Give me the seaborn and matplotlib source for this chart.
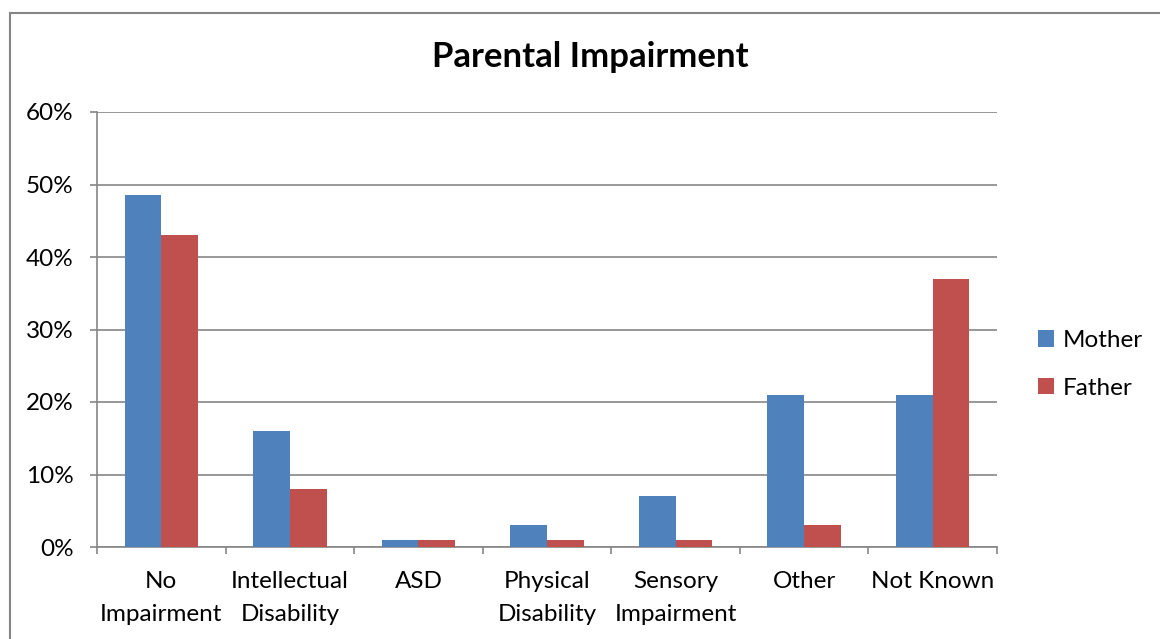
import numpy as np
import pandas as pd
import seaborn as sns
import matplotlib.pyplot as plt
from matplotlib.patches import Rectangle
from matplotlib.ticker import FuncFormatter

sns.set_style("white")
plt.rcParams['font.family'] = ['Lato', 'DejaVu Sans']
plt.rcParams['text.color'] = 'black'
plt.rcParams['xtick.labelcolor'] = 'black'
plt.rcParams['ytick.labelcolor'] = 'black'

# data (percent)
categories = ["No\nImpairment", "Intellectual\nDisability", "ASD", "Physical\nDisability",
              "Sensory\nImpairment", "Other", "Not Known"]
mother = [48.6, 16, 1, 3, 7, 21, 21]
father = [43, 8, 1, 1, 1, 3, 37]
series = ["Mother", "Father"]
colors = ["#4F81BD", "#C0504D"]

df = pd.DataFrame({
    "category": categories * 2,
    "value": mother + father,
    "parent": [series[0]] * len(categories) + [series[1]] * len(categories),
})

fig = plt.figure(figsize=(11.6, 6.39), dpi=100)
ax = fig.add_axes([97 / 1160, 92 / 639, 900 / 1160, 435 / 639])

grid_col = "#868686"
fs = 17.5
sns.barplot(data=df, x="category", y="value", hue="parent", palette=colors,
            width=2 / 3.5, saturation=1, ax=ax, zorder=3, edgecolor="none", linewidth=0)

ax.set_ylim(0, 60)
ax.set_xlim(-0.5, len(categories) - 0.5)
ax.set_yticks(np.arange(0, 61, 10))
ax.yaxis.set_major_formatter(FuncFormatter(lambda v, p: f"{int(v)}%"))
ax.grid(axis="y", color=grid_col, linewidth=1.2, zorder=0)
ax.set_axisbelow(True)

# category labels at centres, tick marks at group boundaries
ax.set_xticks(range(len(categories)))
ax.set_xticklabels(categories, linespacing=1.7, color="black")
ax.set_xticks(np.arange(-0.5, len(categories)), minor=True)
ax.tick_params(axis="x", which="major", length=0, pad=17, labelsize=fs)
ax.tick_params(axis="x", which="minor", length=5, width=1.2, color=grid_col, direction="out")
ax.tick_params(axis="y", length=5, width=1.2, color=grid_col, direction="out", pad=12,
               labelsize=fs, labelcolor="black")
ax.tick_params(bottom=True, left=True, which="both")

for s in ["top", "right"]:
    ax.spines[s].set_visible(False)
for s in ["left", "bottom"]:
    ax.spines[s].set_color(grid_col)
    ax.spines[s].set_linewidth(1.2)
ax.set_xlabel("")
ax.set_ylabel("")

fig.text(590 / 1160, 1 - 57 / 639, "Parental Impairment", ha="center", va="center",
         fontsize=25, fontweight="bold", color="black")

leg = ax.legend(loc="center left", bbox_to_anchor=(1.035, 0.42), frameon=False,
                fontsize=fs, handlelength=0.65, handleheight=0.65, handletextpad=0.35,
                labelspacing=1.1, borderaxespad=0)
for t in leg.get_texts():
    t.set_color("black")

# outer chart border (runs off right and bottom edges)
fig.patches.append(Rectangle((10 / 1160, -0.1), 1.2, 1 - 13 / 639 + 0.1,
                             transform=fig.transFigure, fill=False,
                             edgecolor=grid_col, linewidth=1.5))

fig.savefig("out.png", dpi=100)
